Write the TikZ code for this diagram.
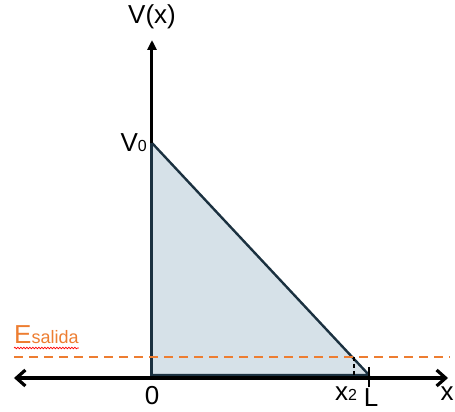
\documentclass[tikz,border=0pt]{standalone}
\usepackage{fontspec}
\setmainfont{Liberation Sans}
\usetikzlibrary{arrows.meta,decorations.pathmorphing}
\definecolor{salida}{HTML}{ED7D31}
\definecolor{pozo}{HTML}{D6E1E8}
\definecolor{borde}{HTML}{1B3140}
\tikzset{
  lbl/.style={inner sep=0pt,font=\fontsize{26}{28}\selectfont},
  chev/.tip={Straight Barb[length=9pt,width=16pt]}
}
\begin{document}
\begin{tikzpicture}[x=1pt,y=1pt]
\useasboundingbox (-152,-34) rectangle (303,378);
\coordinate (O) at (0,0);
\coordinate (V0) at (0,235);
\coordinate (L) at (217,3);
\coordinate (B) at (0,3);
\coordinate (Ltop) at (217,11);
\coordinate (Lbot) at (217,-9);
\coordinate (X2top) at (202,21);
\coordinate (X2bot) at (202,0);
\coordinate (Eleft) at (-138,21);
\coordinate (Eright) at (298,21);
\coordinate (xleft) at (-138,0);
\coordinate (xright) at (296,0);
\coordinate (ytop) at (0,338);
\fill[pozo] (V0) -- (L) -- (B) -- cycle;
\draw[borde, line width=2.4pt, line join=round] (V0) -- (L) -- (B);
\draw[black, line width=3pt, -{Triangle[length=10pt,width=9pt]}] (O) -- (ytop);
\draw[borde, line width=3pt] (O) -- (V0);
\draw[black, line width=3.2pt, {chev}-{chev}] (xleft) -- (xright);
\draw[salida, line width=2pt, dash pattern=on 9pt off 6pt] (Eleft) -- (Eright);
\draw[black, line width=1.8pt, dash pattern=on 4pt off 3pt] (X2top) -- (X2bot);
\draw[black, line width=2.8pt] (Ltop) -- (Lbot);
\node[lbl, anchor=south] (vx) at (0,349) {V(x)};
\node[lbl, anchor=base east] (v0) at (-5,226) {V{\fontsize{16}{18}\selectfont 0}};
\node[lbl, anchor=north] (cero) at (0,-8) {0};
\node[lbl, anchor=base] (x2) at (194,-23) {x{\fontsize{16}{18}\selectfont 2}};
\node[lbl, anchor=base] (ele) at (219,-29) {L};
\node[lbl, anchor=base] (equis) at (295,-23) {x};
\node[lbl, anchor=base west, text=salida] (esal) at (-138,34) {E{\fontsize{18}{20}\selectfont salida}};
\draw[red, line width=0.7pt, decorate, decoration={snake, amplitude=0.8pt, segment length=3pt}] ([yshift=-4pt]esal.base west) -- ([yshift=-4pt]esal.base east);
\end{tikzpicture}
\end{document}
